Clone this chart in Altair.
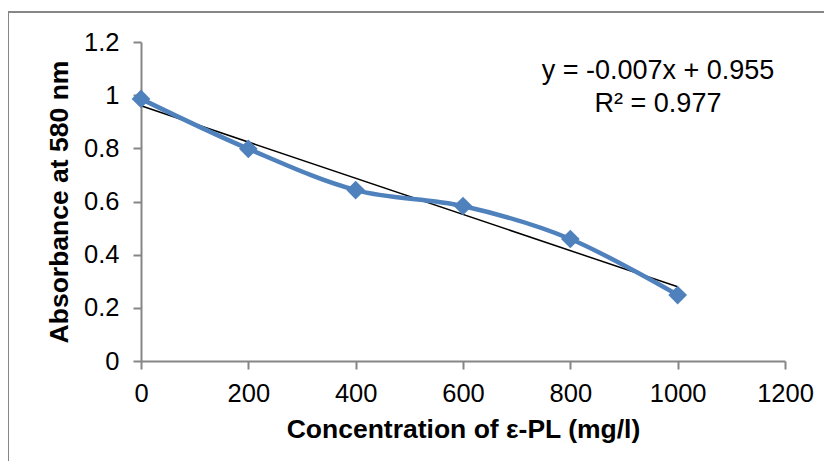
import altair as alt
import pandas as pd

conc = [0, 200, 400, 600, 800, 1000]
absorb = [0.986, 0.798, 0.643, 0.583, 0.459, 0.248]
annot_lines = ["y = -0.007x + 0.955", "R² = 0.977"]
x_ticks = [0, 200, 400, 600, 800, 1000, 1200]
y_ticks = [0, 0.2, 0.4, 0.6, 0.8, 1.0, 1.2]

df = pd.DataFrame({"conc": conc, "abs": absorb})
ann = pd.DataFrame({"txt": annot_lines, "row": [0, 1]})

FONT = "Liberation Sans"
BLUE = "#4F81BD"
GRAY = "#868686"

x = alt.X("conc:Q", scale=alt.Scale(domain=[0, 1200], nice=False),
          axis=alt.Axis(values=x_ticks, format="d", title="Concentration of ε-PL (mg/l)", grid=False,
                        labelFontSize=25.5, titleFontSize=26.5, labelPadding=12,
                        titlePadding=10, tickSize=8, labelFlush=False))
y = alt.Y("abs:Q", scale=alt.Scale(domain=[0, 1.2], nice=False),
          axis=alt.Axis(values=y_ticks, format="~g", title="Absorbance at 580 nm", grid=False,
                        labelFontSize=25.5, titleFontSize=26.5, labelPadding=14,
                        titlePadding=10, tickSize=8, labelFlush=False))

base = alt.Chart(df)

line = base.mark_line(color=BLUE, strokeWidth=4.5, interpolate="cardinal").encode(x=x, y=y)
pts = base.mark_point(shape="diamond", filled=True, size=350, color=BLUE, opacity=1).encode(x=x, y=y)
trend = base.transform_regression("conc", "abs", method="linear").mark_line(
    color="black", strokeWidth=1.5).encode(x=x, y=y)

text1 = alt.Chart(ann).transform_filter("datum.row == 0").mark_text(
    font=FONT, fontSize=27, align="center", baseline="alphabetic", color="black").encode(
    x=alt.value(517), y=alt.value(37), text="txt:N")
text2 = alt.Chart(ann).transform_filter("datum.row == 1").mark_text(
    font=FONT, fontSize=27, align="center", baseline="alphabetic", color="black").encode(
    x=alt.value(517), y=alt.value(70), text="txt:N")

frame_top = alt.Chart(ann).mark_rule(color=GRAY, strokeWidth=2).encode(
    x=alt.value(-133), x2=alt.value(700), y=alt.value(-30))
frame_left = alt.Chart(ann).mark_rule(color=GRAY, strokeWidth=2).encode(
    x=alt.value(-133), y=alt.value(-30), y2=alt.value(440))

chart = alt.layer(frame_top, frame_left, trend, line, pts, text1, text2).properties(
    width=644, height=319,
    autosize=alt.AutoSizeParams(type="none"),
    padding={"left": 133, "top": 34, "right": 39, "bottom": 100},
).configure_view(stroke=None).configure_axis(
    labelFont=FONT, titleFont=FONT, labelColor="black", titleColor="black",
    domainColor=GRAY, tickColor=GRAY, domainWidth=2, tickWidth=2, titleFontWeight="bold"
)

chart.save("out.html", embed_options={"renderer": "svg", "actions": False})
